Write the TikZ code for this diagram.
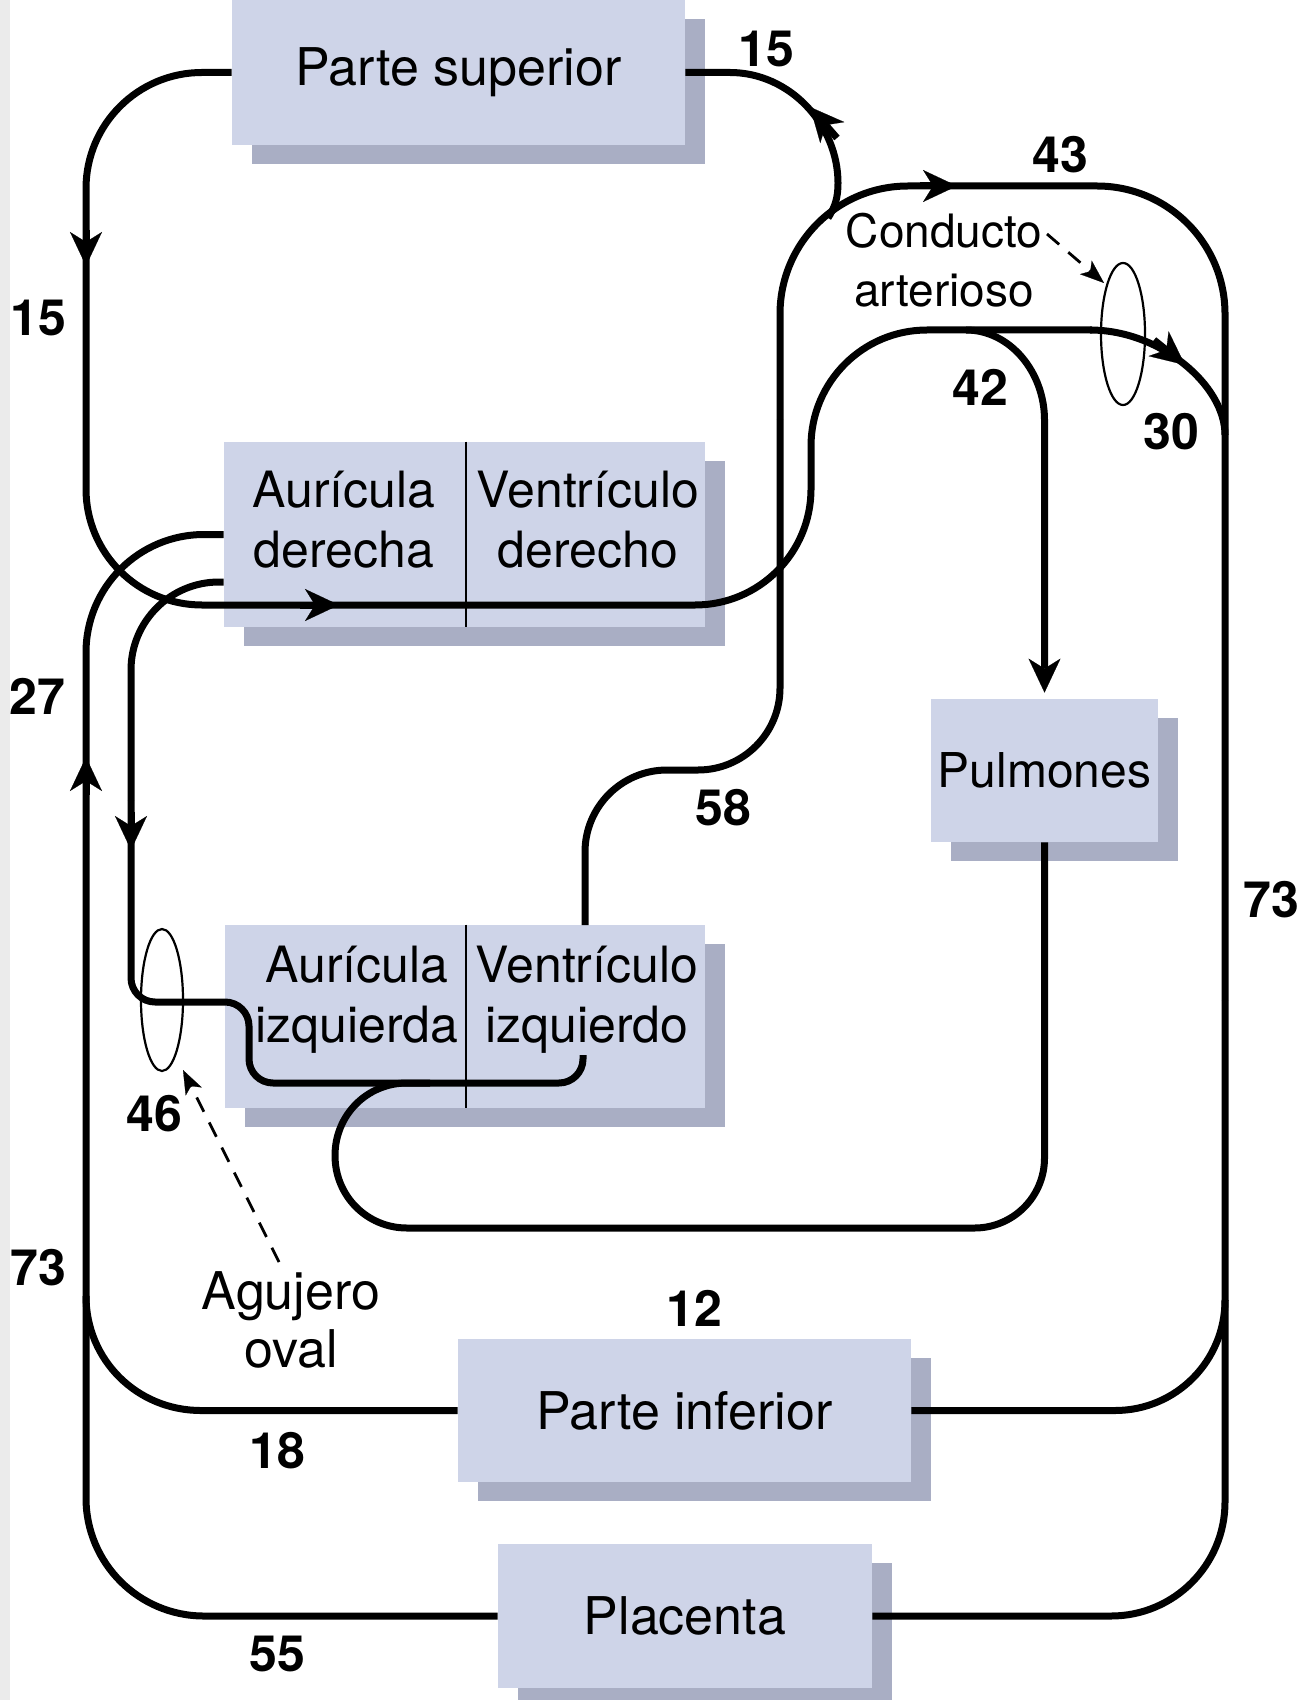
\documentclass[tikz,border=0pt]{standalone}
\usepackage{fontspec}
\setmainfont{TeX Gyre Heros}
\usetikzlibrary{arrows.meta,shadows,shapes.geometric}
\definecolor{boxfill}{HTML}{CED4E8}
\definecolor{boxshade}{HTML}{A9AEC4}
\definecolor{stripcol}{HTML}{EBEBEB}
\begin{document}
\begin{tikzpicture}[x=0.5pt,y=-0.5pt,
  organ/.style={fill=boxfill, inner sep=0pt,
    drop shadow={shadow xshift=10pt, shadow yshift=-9.5pt, fill=boxshade, opacity=1},
    font=\fontsize{26}{31}\selectfont},
  heart/.style={align=center, inner sep=0pt, font=\fontsize{25}{30}\selectfont},
  num/.style={inner sep=0pt, font=\fontsize{25}{30}\selectfont\bfseries},
  flow/.style={line width=3.5pt, line cap=butt, line join=round},
  arrowtip/.style={line width=3.5pt, -{Stealth[length=17pt,width=16pt,inset=5pt,line width=0.1pt]}},
  hair/.style={line width=1.1pt},
  oval/.style={draw, line width=1.1pt, ellipse, inner sep=0pt},
  pointer/.style={line width=1.4pt, dash pattern=on 8pt off 6pt,
    -{Stealth[length=12pt,width=9pt,inset=3pt,line width=0.1pt]}},
]
% background
\fill[white] (0,0) rectangle (1299,1700);
\fill[stripcol] (0,0) rectangle (10,1700);
\useasboundingbox (0,0) rectangle (1299,1700);

% boxes
\node[organ, minimum width=226.5pt, minimum height=72.5pt] (ps) at (458.5,72.5) {Parte superior};
\node[organ, minimum width=240.5pt, minimum height=92.5pt] (rh) at (464.5,534.5) {};
\node[organ, minimum width=240pt, minimum height=91.5pt] (lh) at (465,1016.5) {};
\node[organ, minimum width=113.5pt, minimum height=71.5pt, font=\fontsize{24}{29}\selectfont] (pul) at (1044.5,770.5) {Pulmones};
\node[organ, minimum width=226.5pt, minimum height=71.5pt] (pi) at (684.5,1410.5) {Parte inferior};
\node[organ, minimum width=187pt, minimum height=72pt] (pl) at (685,1616) {Placenta};

% dividers
\draw[hair] ([xshift=0.75pt]rh.north) -- ([xshift=0.75pt]rh.south);
\draw[hair] ([xshift=0.5pt]lh.north) -- ([xshift=0.5pt]lh.south);

% heart texts
\node[heart] (ra) at (344,520) {Aurícula\\derecha};
\node[heart] (rv) at (588,520) {Ventrículo\\derecho};
\node[heart] (la) at (357,1000) {Aurícula\\izquierda};
\node[heart] (lv) at (587,1000) {Ventrículo\\izquierdo};

% free-end coordinates
\coordinate (lvtop) at (585,925);
\coordinate (cstart) at (1047,234);
\coordinate (ctip) at (1104,283);
\coordinate (astart) at (279,1262);
\coordinate (atip) at (183,1070);

% superior vena cava -> right heart -> pulmonary trunk
\draw[flow, rounded corners=58pt] (ps.west) -- (86,72.5) -- (86,605) -- (811,605) -- (811,330) -- (1092,330);
\draw[flow] (1090,330) .. controls (1160,330) and (1225,385) .. (1225,435);
\draw[arrowtip] (86,230) -- (86,266);
\draw[arrowtip] (300,605) -- (339,605);
\draw[arrowtip] (1154,340) -- (1185,365);

% branch to lungs
\draw[flow, -{Stealth[length=17pt,width=16pt,inset=5pt,line width=0.1pt]}]
  (966,330) .. controls (1010,330) and (1044.5,372) .. (1044.5,420) -- ([yshift=3pt]pul.north);

% inferior vena cava (placenta) -> right atrium
\draw[flow, rounded corners=59pt] (pl.west) -- (86,1616) -- (86,534.5) -- (rh.west);
\draw[arrowtip] (86,795) -- (86,757);

% lower body -> left vertical
\draw[flow] (pi.west) -- (201,1410.5) .. controls (137,1410.5) and (86,1360) .. (86,1296);

% left ventricle -> aorta -> right vertical -> placenta
\draw[flow, rounded corners=41pt] (lvtop) -- (585,770) -- (780,770) -- (780,420);
\draw[flow, rounded corners=64pt] (780,420) -- (780,186) -- (1225,186) -- (1225,1000);
\draw[flow, rounded corners=57pt] (1225,1000) -- (1225,1616) -- (pl.east);
\draw[arrowtip] (920,186) -- (957,186);

% aorta -> upper body
\draw[flow] (ps.east) -- (730,72.5) .. controls (790,72.5) and (838,125) .. (838,183)
  .. controls (838,198) and (835,207) .. (828,218);
\draw[arrowtip] (837,138) -- (810,107);

% lower body -> right vertical
\draw[flow] (pi.east) -- (1115,1410.5) .. controls (1176,1410.5) and (1225,1361) .. (1225,1300);

% foramen ovale path: right atrium -> left atrium -> left ventricle
\draw[flow, rounded corners=44pt] ([yshift=-23.75pt]rh.west) -- (131,582) -- (131,800);
\draw[flow, rounded corners=12pt] (131,800) -- (131,1002) -- (249,1002) -- (249,1083) -- (583,1083) -- (583,1055);
\draw[arrowtip] (131,812) -- (131,850);

% pulmonary veins -> left atrium
\draw[flow, rounded corners=35pt] (pul.south) -- (1044.5,1228) -- (407,1228);
\draw[flow] (407,1228) .. controls (367,1228) and (335,1196) .. (335,1155.5)
  .. controls (335,1115) and (367,1083) .. (407,1083) -- (430,1083);

% ovals
\node[oval, minimum width=22pt, minimum height=71pt] (da) at (1123,334) {};
\node[oval, minimum width=21pt, minimum height=71pt] (fo) at (162,1000) {};

% labels
\node[font=\fontsize{23}{29.5}\selectfont, align=center, inner sep=0pt] (ca) at (944,260) {Conducto\\arterioso};
\node[font=\fontsize{26}{29}\selectfont, align=center, inner sep=0pt] (ao) at (291,1320) {Agujero\\oval};
\draw[pointer] (cstart) -- (ctip);
\draw[pointer] (astart) -- (atip);

\node[num] (n15a) at (766,49) {15};
\node[num] (n43) at (1060,155) {43};
\node[num] (n15b) at (38,318) {15};
\node[num] (n42) at (980,387) {42};
\node[num] (n30) at (1171,432) {30};
\node[num] (n27) at (37,696) {27};
\node[num] (n58) at (723,808) {58};
\node[num] (n73r) at (1271,900) {73};
\node[num] (n46) at (154,1114) {46};
\node[num] (n73l) at (38,1268) {73};
\node[num] (n12) at (694,1308) {12};
\node[num] (n18) at (277,1451) {18};
\node[num] (n55) at (277,1654) {55};
\end{tikzpicture}
\end{document}
